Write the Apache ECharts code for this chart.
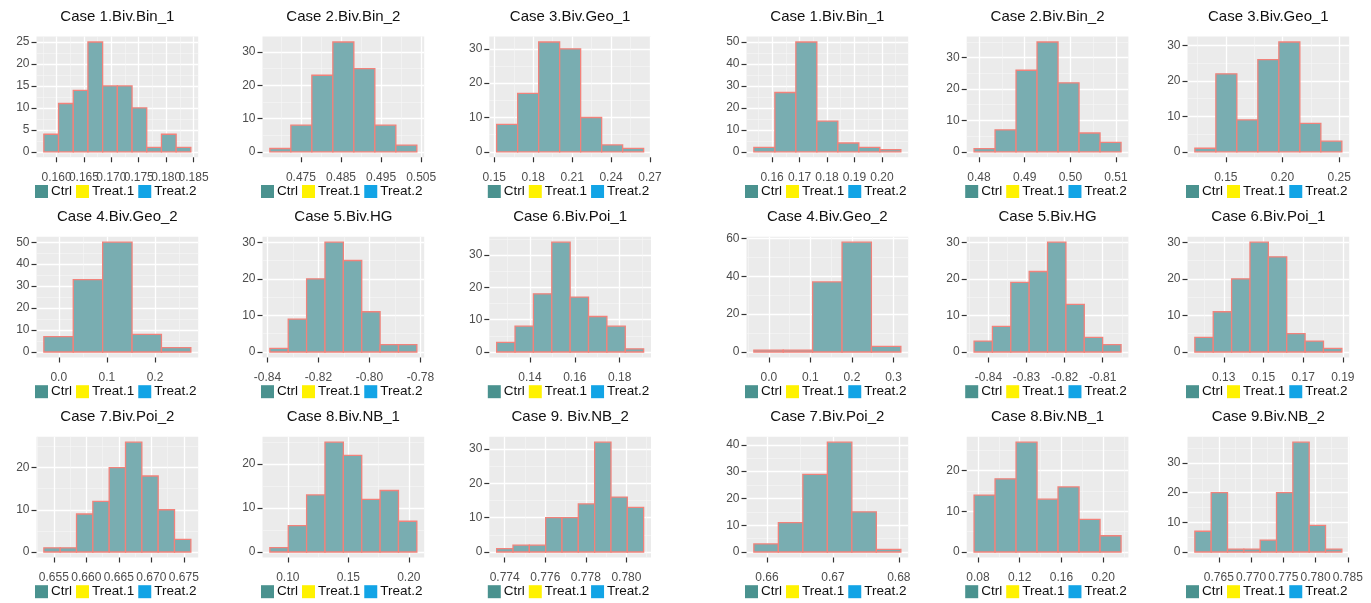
<!DOCTYPE html>
<html><head><meta charset="utf-8">
<script src="https://cdn.jsdelivr.net/npm/echarts@6/dist/echarts.min.js"></script>
<style>html,body{margin:0;padding:0;background:#fff}#c{width:1371px;height:603px}</style>
</head><body><div id="c"></div>
<script>
// ---------- titles & legend ----------
const titles = [
  'Case 1.Biv.Bin_1', 'Case 2.Biv.Bin_2', 'Case 3.Biv.Geo_1',
  'Case 4.Biv.Geo_2', 'Case 5.Biv.HG', 'Case 6.Biv.Poi_1',
  'Case 7.Biv.Poi_2', 'Case 8.Biv.NB_1', 'Case 9. Biv.NB_2',
  'Case 1.Biv.Bin_1', 'Case 2.Biv.Bin_2', 'Case 3.Biv.Geo_1',
  'Case 4.Biv.Geo_2', 'Case 5.Biv.HG', 'Case 6.Biv.Poi_1',
  'Case 7.Biv.Poi_2', 'Case 8.Biv.NB_1', 'Case 9.Biv.NB_2'
];
const legendNames = ['Ctrl', 'Treat.1', 'Treat.2'];

// ---------- histogram counts ----------
const L1_counts = [4, 11, 14, 25, 15, 15, 10, 1, 4, 1];
const L2_counts = [1, 8, 23, 33, 25, 8, 2];
const L3_counts = [8, 17, 32, 30, 10, 2, 1];
const L4_counts = [7, 33, 50, 8, 2];
const L5_counts = [1, 9, 20, 30, 25, 11, 2, 2];
const L6_counts = [3, 8, 18, 34, 17, 11, 8, 1];
const L7_counts = [1, 1, 9, 12, 20, 26, 18, 10, 3];
const L8_counts = [1, 6, 13, 25, 22, 12, 14, 7];
const L9_counts = [1, 2, 2, 10, 10, 14, 32, 16, 13];
const R1_counts = [2, 27, 50, 14, 4, 2, 1];
const R2_counts = [1, 7, 26, 35, 22, 6, 3];
const R3_counts = [1, 22, 9, 26, 31, 8, 3];
const R4_counts = [1, 1, 37, 58, 3];
const R5_counts = [3, 7, 19, 22, 30, 13, 4, 2];
const R6_counts = [4, 11, 20, 30, 26, 5, 3, 1];
const R7_counts = [3, 11, 29, 41, 15, 1];
const R8_counts = [14, 18, 27, 13, 16, 8, 4];
const R9_counts = [7, 20, 1, 1, 4, 20, 37, 9, 1];

// ---------- histogram breaks: [first break, bin width] ----------
const L1_bins = [0.15768, 0.002683];
const L2_bins = [0.46725, 0.005238];
const L3_bins = [0.15181, 0.016181];
const L4_bins = [-0.03103, 0.06110];
const L5_bins = [-0.83909, 0.007206];
const L6_bins = [0.125185, 0.008185];
const L7_bins = [0.65346, 0.002513];
const L8_bins = [0.08512, 0.015186];
const L9_bins = [0.773603, 0.000805];
const R1_bins = [0.15335, 0.007649];
const R2_bins = [0.47891, 0.004598];
const R3_bins = [0.12265, 0.018529];
const R4_bins = [-0.036, 0.07072];
const R5_bins = [-0.843761, 0.0048215];
const R6_bins = [0.11542, 0.009259];
const R7_bins = [0.658015, 0.003715];
const R8_bins = [0.07622, 0.02012];
const R9_bins = [0.761279, 0.002532];

// ---------- tick labels ----------
const L1_xTicks = ['0.160', '0.165', '0.170', '0.175', '0.180', '0.185'];
const L2_xTicks = ['0.475', '0.485', '0.495', '0.505'];
const L3_xTicks = ['0.15', '0.18', '0.21', '0.24', '0.27'];
const L4_xTicks = ['0.0', '0.1', '0.2'];
const L5_xTicks = ['-0.84', '-0.82', '-0.80', '-0.78'];
const L6_xTicks = ['0.14', '0.16', '0.18'];
const L7_xTicks = ['0.655', '0.660', '0.665', '0.670', '0.675'];
const L8_xTicks = ['0.10', '0.15', '0.20'];
const L9_xTicks = ['0.774', '0.776', '0.778', '0.780'];
const R1_xTicks = ['0.16', '0.17', '0.18', '0.19', '0.20'];
const R2_xTicks = ['0.48', '0.49', '0.50', '0.51'];
const R3_xTicks = ['0.15', '0.20', '0.25'];
const R4_xTicks = ['0.0', '0.1', '0.2', '0.3'];
const R5_xTicks = ['-0.84', '-0.83', '-0.82', '-0.81'];
const R6_xTicks = ['0.13', '0.15', '0.17', '0.19'];
const R7_xTicks = ['0.66', '0.67', '0.68'];
const R8_xTicks = ['0.08', '0.12', '0.16', '0.20'];
const R9_xTicks = ['0.765', '0.770', '0.775', '0.780', '0.785'];

const yTicks5 = ['0', '5', '10', '15', '20', '25'];
const yTicks20 = ['0', '10', '20'];
const yTicks30 = ['0', '10', '20', '30'];
const yTicks40 = ['0', '10', '20', '30', '40'];
const yTicks50 = ['0', '10', '20', '30', '40', '50'];
const yTicks60 = ['0', '20', '40', '60'];

const panels = [
  [L1_counts, L1_bins, L1_xTicks, yTicks5],
  [L2_counts, L2_bins, L2_xTicks, yTicks30],
  [L3_counts, L3_bins, L3_xTicks, yTicks30],
  [L4_counts, L4_bins, L4_xTicks, yTicks50],
  [L5_counts, L5_bins, L5_xTicks, yTicks30],
  [L6_counts, L6_bins, L6_xTicks, yTicks30],
  [L7_counts, L7_bins, L7_xTicks, yTicks20],
  [L8_counts, L8_bins, L8_xTicks, yTicks20],
  [L9_counts, L9_bins, L9_xTicks, yTicks30],
  [R1_counts, R1_bins, R1_xTicks, yTicks50],
  [R2_counts, R2_bins, R2_xTicks, yTicks30],
  [R3_counts, R3_bins, R3_xTicks, yTicks30],
  [R4_counts, R4_bins, R4_xTicks, yTicks60],
  [R5_counts, R5_bins, R5_xTicks, yTicks30],
  [R6_counts, R6_bins, R6_xTicks, yTicks30],
  [R7_counts, R7_bins, R7_xTicks, yTicks40],
  [R8_counts, R8_bins, R8_xTicks, yTicks20],
  [R9_counts, R9_bins, R9_xTicks, yTicks30]
];

// ---------- layout / style ----------
const colLeft = [36.5, 262.5, 489.3, 746.5, 966.7, 1187.5];
const rowTop = [36.5, 236.7, 436.7];
const PW = 161.7, PH = 120.8;
const FONT = '"Liberation Sans", Arial, sans-serif';
const BAR_FILL = '#79adb1';
const BAR_EDGE = '#f2827b';
const LEG_COLORS = ['#4a928f', '#fff200', '#12a4e6'];

function minorVals(vals, lo, hi) {
  const step = vals[1] - vals[0];
  const out = [];
  for (let k = 0; k < 40; k++) {
    const v = vals[0] - step / 2 + k * step;
    if (v >= hi) break;
    if (v > lo) out.push(+v.toFixed(10));
  }
  return out;
}
function labeler(labels) {
  const nums = labels.map(Number);
  return function (v) {
    let best = 0, bd = Infinity;
    nums.forEach((n, i) => { const d = Math.abs(n - v); if (d < bd) { bd = d; best = i; } });
    return labels[best];
  };
}

const grids = [], xAxes = [], yAxes = [], series = [], titleList = [], legends = [];
const tickStyle = { color: '#333', width: 1.2 };

function majorXAxis(i, xMin, xMax, vals, labels) {
  return {
    type: 'value', gridIndex: i, min: xMin, max: xMax, position: 'bottom', offset: 0,
    axisLine: { show: false, onZero: false },
    axisTick: { show: true, length: 5, customValues: vals, lineStyle: tickStyle },
    axisLabel: { show: true, customValues: vals, formatter: labeler(labels), margin: 14, fontSize: 12,
      color: '#4d4d4d', fontFamily: FONT, hideOverlap: false, interval: 0,
      showMinLabel: true, showMaxLabel: true },
    splitLine: { show: true, lineStyle: { color: '#ffffff', width: 1.3 } }
  };
}

panels.forEach((p, i) => {
  const counts = p[0], bins = p[1], xt = p[2], yt = p[3];
  const set = i < 9 ? 0 : 1, k = i % 9, r = Math.floor(k / 3), c = set * 3 + (k % 3);
  const left = colLeft[c], top = rowTop[r];
  grids.push({ left: left, top: top, width: PW, height: PH, show: true,
    backgroundColor: '#ebebeb', borderWidth: 0, containLabel: false, outerBoundsMode: 'none' });

  const n = counts.length, w = bins[1];
  const x0 = bins[0], x1 = bins[0] + n * w, xr = x1 - x0;
  const xMin = x0 - 0.05 * xr, xMax = x1 + 0.05 * xr;
  const cmax = Math.max.apply(null, counts);
  const yMin = -0.05 * cmax, yMax = 1.05 * cmax;
  const xv = xt.map(Number), yv = yt.map(Number);
  // even / odd ticks on two stacked bottom axes so crowded labels are all drawn
  const xvEven = xv.filter((v, j) => j % 2 === 0), xvOdd = xv.filter((v, j) => j % 2 === 1);

  const base = xAxes.length;
  xAxes.push(majorXAxis(i, xMin, xMax, xvEven, xt));
  xAxes.push(majorXAxis(i, xMin, xMax, xvOdd, xt));
  xAxes.push({
    type: 'value', gridIndex: i, min: xMin, max: xMax, position: 'top',
    axisLine: { show: false, onZero: false },
    axisTick: { show: false, customValues: minorVals(xv, xMin, xMax) },
    axisLabel: { show: false },
    splitLine: { show: true, lineStyle: { color: '#f7f7f7', width: 0.6 } }
  });
  yAxes.push({
    type: 'value', gridIndex: i, min: yMin, max: yMax, position: 'left',
    axisLine: { show: false, onZero: false },
    axisTick: { show: true, length: 5, customValues: yv, lineStyle: tickStyle },
    axisLabel: { show: true, customValues: yv, formatter: labeler(yt), margin: 7, fontSize: 12,
      color: '#4d4d4d', fontFamily: FONT, hideOverlap: false, interval: 0,
      showMinLabel: true, showMaxLabel: true },
    splitLine: { show: true, lineStyle: { color: '#ffffff', width: 1.3 } }
  });
  yAxes.push({
    type: 'value', gridIndex: i, min: yMin, max: yMax, position: 'right',
    axisLine: { show: false, onZero: false },
    axisTick: { show: false, customValues: minorVals(yv, yMin, yMax) },
    axisLabel: { show: false },
    splitLine: { show: true, lineStyle: { color: '#f7f7f7', width: 0.6 } }
  });

  series.push({
    type: 'custom', name: 'Ctrl', xAxisIndex: base, yAxisIndex: 2 * i, clip: false,
    itemStyle: { color: LEG_COLORS[0] },
    encode: { x: [0, 1], y: 2 },
    data: counts.map((v, j) => [x0 + j * w, x0 + (j + 1) * w, v]),
    renderItem: function (params, api) {
      const a = api.coord([api.value(0), api.value(2)]);
      const b = api.coord([api.value(1), 0]);
      return { type: 'rect', shape: { x: a[0], y: a[1], width: b[0] - a[0], height: b[1] - a[1] },
        style: { fill: BAR_FILL, stroke: BAR_EDGE, lineWidth: 1.3 } };
    }
  });

  titleList.push({ text: titles[i], left: left + PW / 2, top: top - 19.5, textAlign: 'center',
    textVerticalAlign: 'middle', padding: 0,
    textStyle: { fontSize: 15, fontWeight: 'normal', color: '#111', fontFamily: FONT } });

  legends.push({
    left: left - 1.5, top: top + 148, orient: 'horizontal', padding: 0, itemGap: 4,
    itemWidth: 13, itemHeight: 13, icon: 'rect',
    textStyle: { fontSize: 13.5, color: '#111', fontFamily: FONT, padding: [0, 0, 0, -2] },
    data: legendNames.map((nm, j) => ({ name: nm, icon: 'rect',
      itemStyle: { color: LEG_COLORS[j], borderWidth: 0 } }))
  });
});

// empty series so Treat.1 / Treat.2 legend entries exist
['Treat.1', 'Treat.2'].forEach((nm, j) => {
  series.push({ type: 'custom', name: nm, xAxisIndex: 0, yAxisIndex: 0, data: [],
    itemStyle: { color: LEG_COLORS[j + 1] },
    renderItem: function () { return null; } });
});

const chart = echarts.init(document.getElementById('c'), null, { renderer: 'canvas' });
chart.setOption({
  backgroundColor: '#ffffff',
  animation: false,
  title: titleList,
  legend: legends,
  grid: grids,
  xAxis: xAxes,
  yAxis: yAxes,
  series: series
});
</script>
</body></html>
